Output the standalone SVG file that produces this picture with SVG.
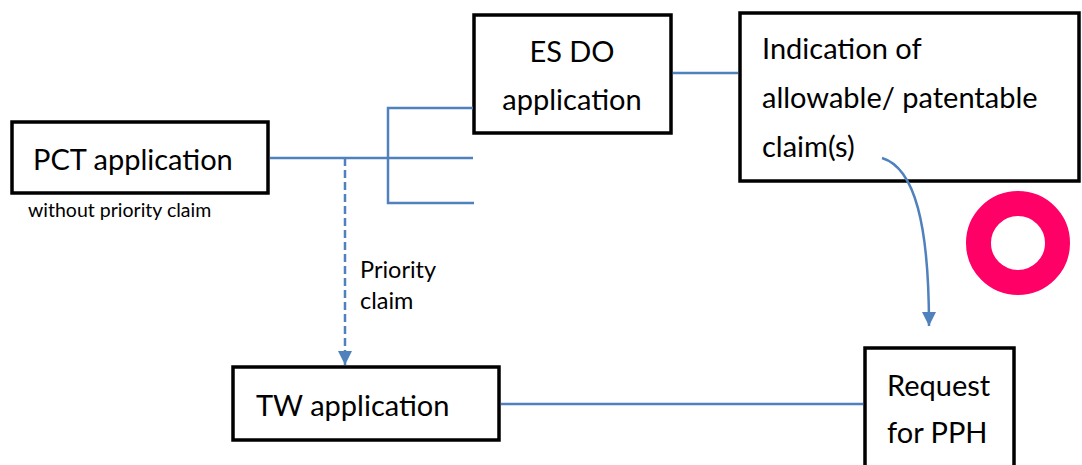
<svg xmlns="http://www.w3.org/2000/svg" width="1082" height="465" viewBox="0 0 1082 465">
<defs>
<style>
.box{fill:#fff;stroke:#000;stroke-width:3.5}
.lbl{font-family:Lato,"Open Sans",sans-serif;font-size:29px;fill:#000}
.sm{font-family:Lato,"Open Sans",sans-serif;font-size:23.5px;fill:#000}
.xs{font-family:Lato,"Open Sans",sans-serif;font-size:19.5px;fill:#000}
.ln{fill:none;stroke:#4F81BD;stroke-width:2.5}
</style>
<marker id="ah" viewBox="0 0 10 10" refX="10" refY="5" markerWidth="14" markerHeight="14" markerUnits="userSpaceOnUse" orient="auto">
<path d="M0,0 L10,5 L0,10 Z" fill="#4F81BD"/>
</marker>
</defs>
<rect width="1082" height="465" fill="#fff"/>
<g id="pct">
<rect class="box" x="12" y="122" width="256" height="71"/>
<text class="lbl" x="33" y="170">PCT application</text>
<text class="xs" x="28" y="217">without priority claim</text>
</g>
<g id="esdo">
<rect class="box" x="474" y="15" width="197" height="118"/>
<text class="lbl" x="572" y="62" text-anchor="middle">ES DO</text>
<text class="lbl" x="572" y="110" text-anchor="middle">application</text>
</g>
<g id="indication">
<rect class="box" x="740" y="13" width="339" height="168"/>
<text class="lbl" x="762" y="59">Indication of</text>
<text class="lbl" x="762" y="108">allowable/ patentable</text>
<text class="lbl" x="762" y="157">claim(s)</text>
</g>
<g id="priority-label">
<text class="sm" x="360" y="278">Priority</text>
<text class="sm" x="360" y="309">claim</text>
</g>
<g id="tw">
<rect class="box" x="233" y="367" width="266" height="73"/>
<text class="lbl" x="256" y="416">TW application</text>
</g>
<g id="pph">
<rect class="box" x="865" y="348" width="149" height="130"/>
<text class="lbl" x="887" y="396">Request</text>
<text class="lbl" x="887" y="443">for PPH</text>
</g>
<g id="circle">
<circle cx="1018" cy="243" r="39.5" fill="none" stroke="#FF0066" stroke-width="25"/>
</g>
<g id="connectors">
<path class="ln" d="M270,158 H473"/>
<path class="ln" d="M473,108 H388 V203 H474"/>
<path class="ln" d="M673,73 H738"/>
<path class="ln" d="M501,404 H863"/>
<path class="ln" d="M345,158 V365" stroke-dasharray="8,4" stroke-width="3" marker-end="url(#ah)"/>
<path class="ln" d="M882,158 C915,168 929,225 929,326" marker-end="url(#ah)"/>
</g>
</svg>
